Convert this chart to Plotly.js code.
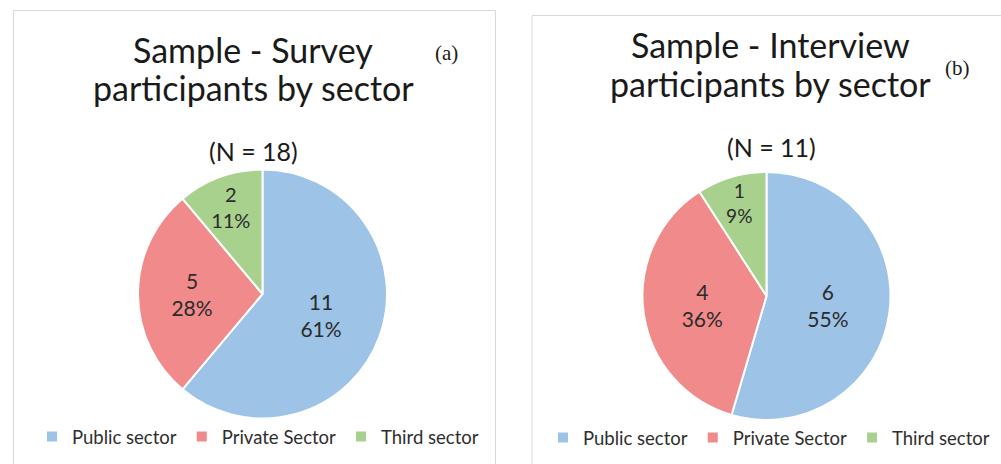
<!DOCTYPE html>
<html>
<head>
<meta charset="utf-8">
<script src="https://cdn.plot.ly/plotly-3.0.1.min.js"></script>
<style>
html,body{margin:0;padding:0;background:#fff;}
#wrap{position:relative;width:1001px;height:464px;overflow:hidden;}
#chartA{position:absolute;left:0;top:0;width:501px;height:464px;}
#chartB{position:absolute;left:501px;top:0;width:500px;height:464px;}
</style>
</head>
<body>
<div id="wrap"><div id="chartA"></div><div id="chartB"></div></div>
<script>
const sectors = ["Public sector", "Private Sector", "Third sector"];
const surveyCounts = [11, 5, 2];
const interviewCounts = [6, 4, 1];
const sliceColors = ["#9dc3e6", "#f08a8b", "#a9d18e"];
const surveyTitle = ["Sample - Survey", "participants by sector", "(N = 18)"];
const interviewTitle = ["Sample - Interview", "participants by sector", "(N = 11)"];
const panelTags = ["(a)", "(b)"];

const H = 464;
const FONT = "Lato, 'Open Sans', sans-serif";
const SERIF = "'Liberation Serif', 'Times New Roman', serif";

function makePanel(divId, W, off, values, titles, tag, cfg) {
  const px = v => (v - off) / W;
  const py = v => 1 - v / H;
  const r = cfg.r;
  const trace = {
    type: "pie",
    labels: sectors,
    values: values,
    sort: false,
    direction: "clockwise",
    rotation: 0,
    marker: {colors: sliceColors, line: {color: "#ffffff", width: 2}},
    texttemplate: "%{value}<br>%{percent:.0%}",
    textposition: "inside",
    insidetextorientation: "horizontal",
    textfont: {family: FONT, size: 21, color: "#2b2b2b"},
    hoverinfo: "label+value+percent",
    domain: {x: [px(cfg.cx - r), px(cfg.cx + r)], y: [py(cfg.cy + r), py(cfg.cy - r)]},
    showlegend: true
  };
  const ann = (text, x, y, size, family) => ({
    text: text, x: px(x), y: py(y), xref: "paper", yref: "paper",
    xanchor: "center", yanchor: "middle", showarrow: false,
    font: {family: family || FONT, size: size, color: "#1a1a1a"}
  });
  const layout = {
    width: W, height: H,
    margin: {l: 0, r: 0, t: 0, b: 0},
    paper_bgcolor: "rgba(0,0,0,0)",
    plot_bgcolor: "rgba(0,0,0,0)",
    annotations: [
      ann(titles[0], cfg.tx, cfg.t1, 34),
      ann(titles[1], cfg.tx, cfg.t2, 34),
      ann(titles[2], cfg.nx, cfg.t3, 25),
      ann(tag, cfg.ax, cfg.ay, 21, SERIF)
    ],
    shapes: [
      {type: "rect", xref: "paper", yref: "paper", x0: px(cfg.bx0), x1: px(cfg.bx1),
       y0: -0.1, y1: py(cfg.by), line: {color: "#d9d9d9", width: 1}, fillcolor: "rgba(0,0,0,0)"}
    ],
    legend: {orientation: "h", xanchor: "center", yanchor: "middle",
      x: px(cfg.lx), y: py(cfg.ly),
      font: {family: FONT, size: 18.5, color: "#2e2e2e"},
      bgcolor: "rgba(0,0,0,0)"}
  };
  Plotly.newPlot(divId, [trace], layout, {displayModeBar: false, staticPlot: true});
}

makePanel("chartA", 501, 0, surveyCounts, surveyTitle, panelTags[0], {
  cx: 262.5, cy: 294, r: 124.5,
  tx: 253, t1: 49, t2: 87, nx: 253, t3: 151,
  ax: 446, ay: 53,
  bx0: 13.5, bx1: 495.5, by: 10.5,
  lx: 258, ly: 437
});

makePanel("chartB", 500, 501, interviewCounts, interviewTitle, panelTags[1], {
  cx: 766.5, cy: 296, r: 124,
  tx: 770, t1: 45, t2: 83, nx: 771, t3: 147,
  ax: 957, ay: 68,
  bx0: 532, bx1: 1100, by: 15.5,
  lx: 769, ly: 438
});
</script>
</body>
</html>
